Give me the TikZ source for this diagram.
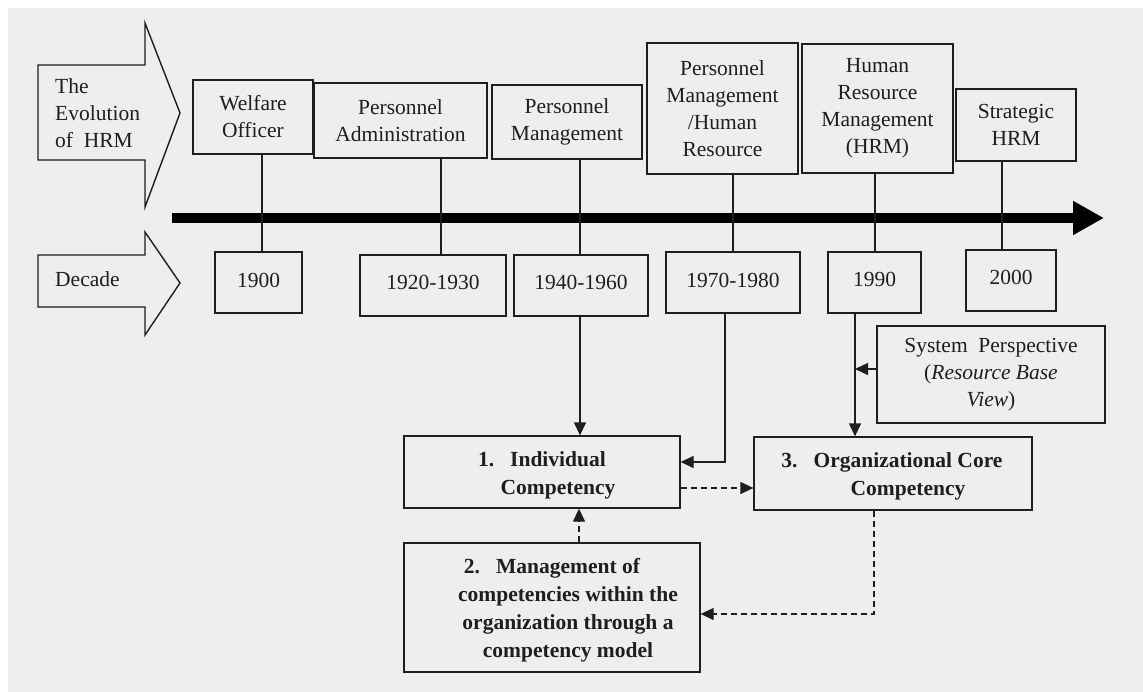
\documentclass[tikz,border=0pt]{standalone}
\usepackage{fontspec}
\setmainfont{Liberation Serif}
\usetikzlibrary{arrows.meta}
\definecolor{paper}{RGB}{237,239,238}
\definecolor{ink}{RGB}{30,30,30}
\newcommand\fsz{\fontsize{21.5}{27}\selectfont}
\newcommand\fsb{\fontsize{21.5}{28}\selectfont\bfseries}
\tikzset{
  box/.style={draw=ink, line width=1.3pt, inner sep=0pt, align=center, font=\fsz, text=ink},
  bbox/.style={box, font=\fsb},
  txt/.style={inner sep=0pt, align=center, font=\fsz, text=ink},
  btxt/.style={txt, font=\fsb},
  conn/.style={draw=ink, line width=1.3pt},
  arr/.style={conn, -{Triangle[length=13pt,width=12pt]}},
  darr/.style={conn, dash pattern=on 6pt off 4pt, -{Triangle[length=13pt,width=12pt]}},
  hollow/.style={draw=ink, line width=1.4pt, line join=miter}
}
\begin{document}
\begin{tikzpicture}[x=1pt,y=-1pt]
\useasboundingbox (0,0) rectangle (1143,692);
\fill[white] (0,0) rectangle (1143,692);
\fill[paper] (8,8) rectangle (1143,692);

% hollow arrows
\draw[hollow] (38,65) -- (145,65) -- (145,23) -- (180,113) -- (145,207) -- (145,160) -- (38,160) -- cycle;
\node[txt, align=left, anchor=west] (evo) at (55,113) {The\\Evolution\\of\ \ HRM};
\draw[hollow] (38,255) -- (145,255) -- (145,232) -- (180,283) -- (145,335) -- (145,307) -- (38,307) -- cycle;
\node[txt, anchor=west] (dec) at (55,279) {Decade};

% timeline arrow
\coordinate (tS) at (172,218);
\coordinate (tE) at (1104,218);
\draw[draw=black, line width=10pt, -{Triangle[length=31pt,width=32pt]}] (tS) -- (tE);

% top boxes
\node[box, minimum width=120pt, minimum height=74pt] (wel) at (253,117) {Welfare\\Officer};
\node[box, minimum width=173pt, minimum height=75pt] (padm) at (400.5,120.5) {Personnel\\Administration};
\node[box, minimum width=150pt, minimum height=74pt] (pman) at (567,122) {Personnel\\Management};
\node[box, minimum width=151pt, minimum height=131pt] (pmhr) at (722.5,108.5) {Personnel\\Management\\/Human\\Resource};
\node[box, minimum width=151pt, minimum height=129pt] (hrm) at (877.5,108.5) {Human\\Resource\\Management\\(HRM)};
\node[box, minimum width=120pt, minimum height=72pt] (shrm) at (1016,125) {Strategic\\HRM};

% decade boxes
\node[box, minimum width=87pt, minimum height=61pt] (d1900) at (258.5,282.5) {\raisebox{5pt}{1900}};
\node[box, minimum width=146pt, minimum height=61pt] (d1920) at (433,285.5) {\raisebox{7pt}{1920-1930}};
\node[box, minimum width=134pt, minimum height=61pt] (d1940) at (581,285.5) {\raisebox{7pt}{1940-1960}};
\node[box, minimum width=134pt, minimum height=61pt] (d1970) at (733,282.5) {\raisebox{5pt}{1970-1980}};
\node[box, minimum width=93pt, minimum height=61pt] (d1990) at (874.5,282.5) {\raisebox{7pt}{1990}};
\node[box, minimum width=90pt, minimum height=61pt] (d2000) at (1011,280.5) {\raisebox{7pt}{2000}};

% vertical ties
\draw[conn] ([xshift=3.5pt]d1900.north) -- ([xshift=3.5pt]d1900.north |- wel.south);
\draw[conn] ([xshift=8pt]d1920.north) -- ([xshift=8pt]d1920.north |- padm.south);
\draw[conn] ([xshift=-1pt]d1940.north) -- ([xshift=-1pt]d1940.north |- pman.south);
\draw[conn] (d1970.north) -- (d1970.north |- pmhr.south);
\draw[conn] ([xshift=0.5pt]d1990.north) -- ([xshift=0.5pt]d1990.north |- hrm.south);
\draw[conn] ([xshift=-9pt]d2000.north) -- ([xshift=-9pt]d2000.north |- shrm.south);

% lower boxes
\node[bbox, minimum width=276pt, minimum height=72pt] (ind) at (542,472) {};
\node[btxt] (indt) at (558,475) {\llap{1.\hspace{16pt}}Individual\\Competency};
\node[bbox, minimum width=278pt, minimum height=73pt] (org) at (893,473.5) {};
\node[btxt] (orgt) at (908,476) {\llap{3.\hspace{16pt}}Organizational Core\\Competency};
\node[bbox, minimum width=296pt, minimum height=129pt] (mgmt) at (552,607.5) {};
\node[btxt] (mgmtt) at (568,610) {\llap{2.\hspace{16pt}}Management of\\competencies within the\\organization through a\\competency model};
\node[box, minimum width=228pt, minimum height=97pt] (sys) at (991,374.5) {System\ \ Perspective\\(\textit{Resource Base}\\\textit{View})};

% connectors
\draw[arr] ([xshift=-1pt]d1940.south) -- ([xshift=-1pt]d1940.south |- ind.north);
\draw[arr] ([xshift=-8pt]d1970.south) |- ([yshift=10pt]ind.east);
\coordinate (j) at ([xshift=-19.5pt]d1990.south);
\draw[arr] (j) -- (j |- org.north);
\coordinate (sp) at ([yshift=5.5pt]sys.west);
\draw[arr] (sp) -- (sp -| j);
\draw[darr] ([yshift=-16pt]ind.east) -- ([yshift=-16pt]ind.east -| org.west);
\draw[darr] ([xshift=27pt]mgmt.north) -- ([xshift=27pt]mgmt.north |- ind.south);
\draw[darr] ([xshift=-19pt]org.south) |- ([yshift=-6.5pt]mgmt.east);
\end{tikzpicture}
\end{document}
